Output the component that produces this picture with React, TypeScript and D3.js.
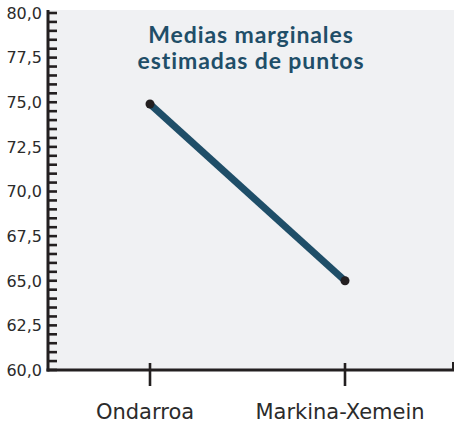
import { useEffect, useRef } from "react";
import * as d3 from "d3";

const categories = ["Ondarroa", "Markina-Xemein"];
const means = [74.9, 65.0];
const majorTicks = [60, 62.5, 65, 67.5, 70, 72.5, 75, 77.5, 80];
const minorTicks = d3.range(60, 80.01, 0.5);
const titleLines = ["Medias marginales", "estimadas de puntos"];

export default function App() {
  const ref = useRef<SVGSVGElement>(null);

  useEffect(() => {
    const width = 454;
    const height = 425;
    const left = 48;
    const right = 454;
    const top = 10;
    const bottom = 370;
    const ink = "#231f20";
    const teal = "#1f4e68";

    const svg = d3.select(ref.current);
    svg.selectAll("*").remove();

    const y = d3.scaleLinear().domain([60, 80]).range([bottom, 13]);
    const x = d3.scalePoint<string>().domain(categories).range([150, 345]);
    const fmt = (v: number) => d3.format(".1f")(v).replace(".", ",");

    svg
      .append("rect")
      .attr("x", left)
      .attr("y", top)
      .attr("width", right - left)
      .attr("height", bottom - top)
      .attr("fill", "#f0f1f3");

    // minor + major ticks on the y axis, pointing inward
    svg
      .append("g")
      .attr("stroke", ink)
      .attr("stroke-width", 2.6)
      .selectAll("line")
      .data(minorTicks)
      .join("line")
      .attr("x1", left)
      .attr("x2", left + 9)
      .attr("y1", (d) => y(d))
      .attr("y2", (d) => y(d));

    svg
      .append("g")
      .style("font", "16px 'DejaVu Sans', sans-serif")
      .attr("fill", "#2b2b2b")
      .attr("text-anchor", "end")
      .selectAll("text")
      .data(majorTicks)
      .join("text")
      .attr("x", 42)
      .attr("y", (d) => y(d))
      .attr("dy", "0.36em")
      .text(fmt);

    // axis lines
    svg
      .append("line")
      .attr("x1", left)
      .attr("x2", left)
      .attr("y1", top)
      .attr("y2", bottom + 1.5)
      .attr("stroke", ink)
      .attr("stroke-width", 3);

    svg
      .append("line")
      .attr("x1", left - 1.5)
      .attr("x2", right)
      .attr("y1", bottom)
      .attr("y2", bottom)
      .attr("stroke", ink)
      .attr("stroke-width", 3);

    svg
      .append("line")
      .attr("x1", right - 1)
      .attr("x2", right - 1)
      .attr("y1", bottom - 8)
      .attr("y2", bottom)
      .attr("stroke", ink)
      .attr("stroke-width", 2);

    // category ticks + labels
    const cat = svg
      .append("g")
      .selectAll("g")
      .data(categories)
      .join("g")
      .attr("transform", (d) => `translate(${x(d)},0)`);

    cat
      .append("line")
      .attr("y1", bottom - 7)
      .attr("y2", bottom + 16)
      .attr("stroke", ink)
      .attr("stroke-width", 2.6);

    cat
      .append("text")
      .attr("x", -5)
      .attr("y", 419)
      .attr("text-anchor", "middle")
      .style("font", "21px 'DejaVu Sans', sans-serif")
      .attr("fill", "#2b2b2b")
      .text((d) => d);

    // means line
    const pts = categories.map((c, i) => [x(c) as number, y(means[i])] as [number, number]);
    svg
      .append("path")
      .attr("d", d3.line()(pts))
      .attr("fill", "none")
      .attr("stroke", teal)
      .attr("stroke-width", 7);

    svg
      .append("g")
      .selectAll("circle")
      .data(pts)
      .join("circle")
      .attr("cx", (d) => d[0])
      .attr("cy", (d) => d[1])
      .attr("r", 4.5)
      .attr("fill", ink);

    svg
      .append("g")
      .attr("fill", teal)
      .attr("text-anchor", "middle")
      .style("font", "bold 23px Lato, sans-serif")
      .style("letter-spacing", "0.9px")
      .selectAll("text")
      .data(titleLines)
      .join("text")
      .attr("x", 251)
      .attr("y", (_, i) => 43 + i * 26)
      .text((d) => d);

    svg.attr("width", width).attr("height", height);
  }, []);

  return (
    <svg
      ref={ref}
      width={454}
      height={425}
      style={{ position: "absolute", left: 0, top: 0, display: "block", background: "#fff" }}
    />
  );
}
